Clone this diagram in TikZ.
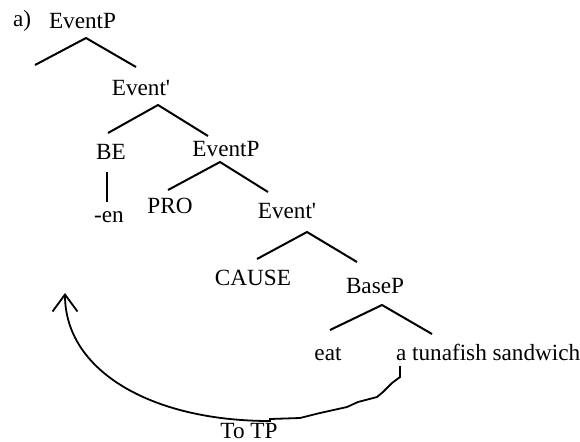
\documentclass[tikz,border=0pt]{standalone}
\usepackage{fontspec}
\setmainfont{Liberation Serif}
\usetikzlibrary{arrows.meta}

\begin{document}
\begin{tikzpicture}[x=0.5pt,y=-0.5pt,line width=1pt,
  lbl/.style={anchor=base,inner sep=0pt,font=\fontsize{11.6}{13.8}\selectfont}]
\useasboundingbox (0,0) rectangle (580,441);
% labels
\node[lbl,anchor=base west] (tag) at (12,26) {a)};
\node[lbl,anchor=base west] (ep1) at (48,28) {EventP};
\node[lbl] (eb1) at (141,95) {Event\textquotesingle};
\node[lbl] (be) at (111,159) {BE};
\node[lbl] (ep2) at (226,156) {EventP};
\node[lbl] (en) at (109,222) {-en};
\node[lbl] (pro) at (170,213) {PRO};
\node[lbl] (eb2) at (287,218) {Event\textquotesingle};
\node[lbl] (cause) at (253,285) {CAUSE};
\node[lbl] (base) at (375,293) {BaseP};
\node[lbl] (eat) at (328,360) {eat};
\node[lbl,anchor=base west] (tuna) at (395,360) {a tunafish sandwich};
\node[lbl] (totp) at (249,438) {To TP};
% branches
\coordinate (a1) at (86,38); \coordinate (l1) at (35,65); \coordinate (r1) at (136,67);
\coordinate (a2) at (158,105); \coordinate (l2) at (108,133); \coordinate (r2) at (208,136);
\coordinate (a3) at (220,162); \coordinate (l3) at (168,190); \coordinate (r3) at (268,192);
\coordinate (a4) at (307,232); \coordinate (l4) at (257,259); \coordinate (r4) at (357,262);
\coordinate (a5) at (382,305); \coordinate (l5) at (330,330); \coordinate (r5) at (432,334);
\foreach \a/\l/\r in {a1/l1/r1,a2/l2/r2,a3/l3/r3,a4/l4/r4,a5/l5/r5}{\draw (\l)--(\a)--(\r);}
\coordinate (v1) at (107,172); \coordinate (v2) at (107,202);
\draw (v1) -- (v2);
% movement
\coordinate (src) at (400,366); \coordinate (tip) at (65,293);
\draw[line width=0.9pt,-{Straight Barb[length=8.5pt,width=12.5pt]}]
  (src) -- (400,377) -- (392,383) -- (383,392) -- (377,397) -- (358,402) -- (347,407)
  -- (320,413) -- (300,418) -- (270,419) -- (270,421)
  .. controls (150,421) and (65,370) .. (tip);
\end{tikzpicture}
\end{document}
